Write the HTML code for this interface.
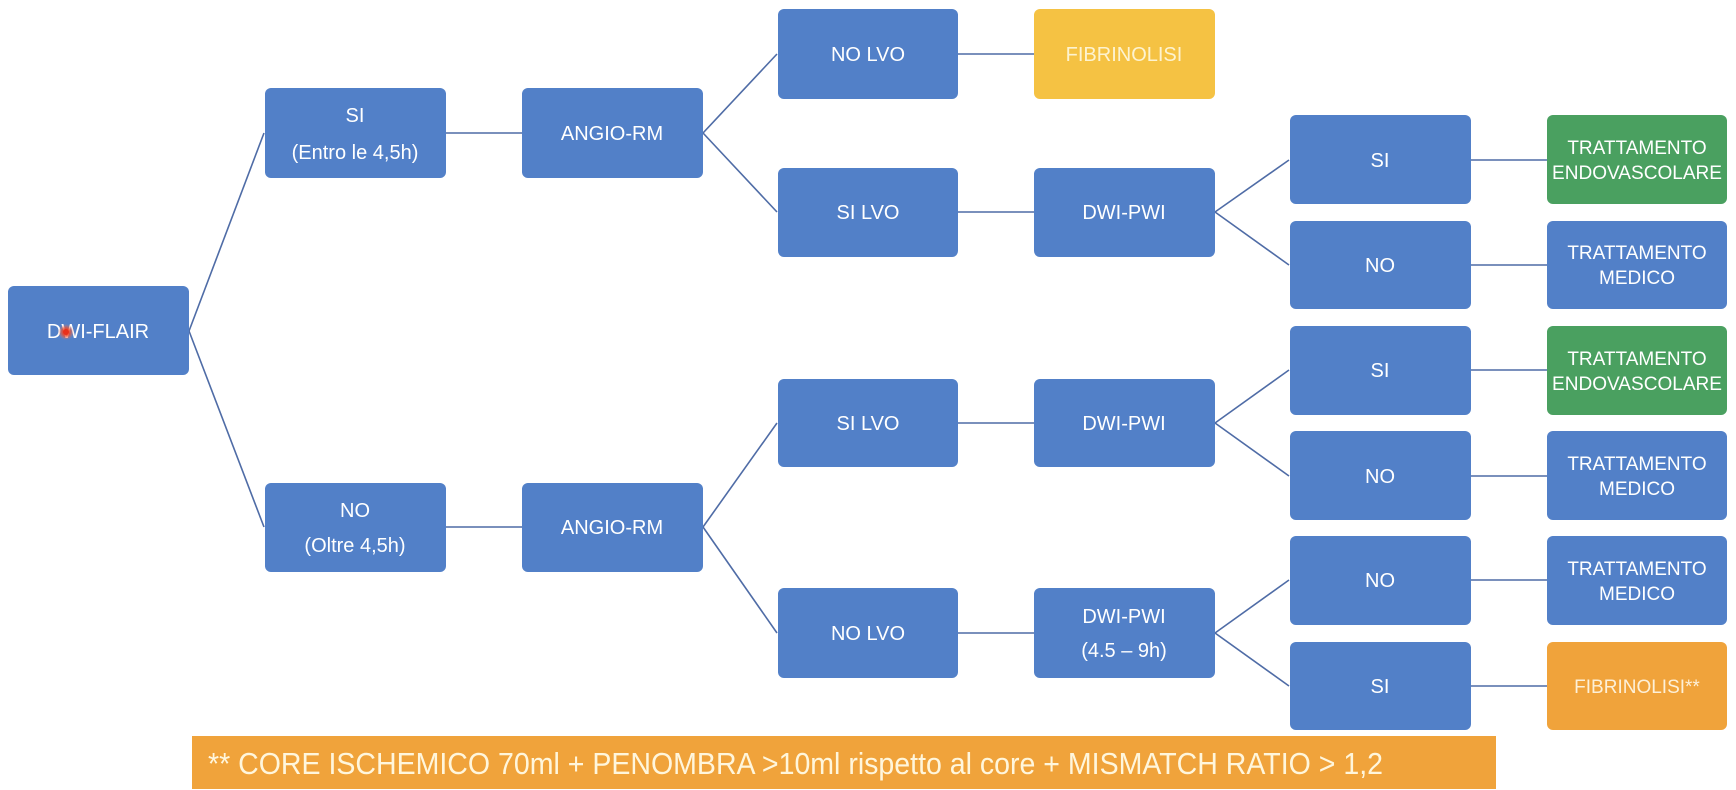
<!DOCTYPE html>
<html><head><meta charset="utf-8"><style>
html,body{margin:0;padding:0;background:#fff;}
svg{display:block;}
text{font-family:"Liberation Sans",Arial,sans-serif;fill:#fff;text-anchor:middle;font-size:20px;}
text.s{font-size:19px;}
text.b{font-size:31px;text-anchor:start;fill:#fff6dc;}
</style></head><body>
<svg width="1736" height="790" viewBox="0 0 1736 790" xmlns="http://www.w3.org/2000/svg">
<defs>
<radialGradient id="rg"><stop offset="0" stop-color="#ff3b1f"/><stop offset="0.5" stop-color="#f04a2a" stop-opacity="0.8"/><stop offset="1" stop-color="#f08060" stop-opacity="0"/></radialGradient>
</defs>
<g stroke="#4f6ca6" stroke-width="1.6" fill="none">
<line x1="189" y1="331" x2="264" y2="133"/>
<line x1="189" y1="331" x2="264" y2="527"/>
<line x1="446" y1="133" x2="522" y2="133"/>
<line x1="446" y1="527" x2="522" y2="527"/>
<line x1="703" y1="133" x2="777" y2="54"/>
<line x1="703" y1="133" x2="777" y2="212"/>
<line x1="703" y1="527" x2="777" y2="423"/>
<line x1="703" y1="527" x2="777" y2="633"/>
<line x1="958" y1="54" x2="1034" y2="54"/>
<line x1="958" y1="212" x2="1034" y2="212"/>
<line x1="958" y1="423" x2="1034" y2="423"/>
<line x1="958" y1="633" x2="1034" y2="633"/>
<line x1="1215" y1="212" x2="1289" y2="160"/>
<line x1="1215" y1="212" x2="1289" y2="265"/>
<line x1="1215" y1="423" x2="1289" y2="370"/>
<line x1="1215" y1="423" x2="1289" y2="476"/>
<line x1="1215" y1="633" x2="1289" y2="580"/>
<line x1="1215" y1="633" x2="1289" y2="686"/>
<line x1="1471" y1="160" x2="1547" y2="160"/>
<line x1="1471" y1="265" x2="1547" y2="265"/>
<line x1="1471" y1="370" x2="1547" y2="370"/>
<line x1="1471" y1="476" x2="1547" y2="476"/>
<line x1="1471" y1="580" x2="1547" y2="580"/>
<line x1="1471" y1="686" x2="1547" y2="686"/>
</g>
<g fill="#5280c8">
<rect x="8" y="286" width="181" height="89" rx="6"/>
<rect x="265" y="88" width="181" height="90" rx="6"/>
<rect x="265" y="483" width="181" height="89" rx="6"/>
<rect x="522" y="88" width="181" height="90" rx="6"/>
<rect x="522" y="483" width="181" height="89" rx="6"/>
<rect x="778" y="9" width="180" height="90" rx="6"/>
<rect x="778" y="168" width="180" height="89" rx="6"/>
<rect x="778" y="379" width="180" height="88" rx="6"/>
<rect x="778" y="588" width="180" height="90" rx="6"/>
<rect x="1034" y="168" width="181" height="89" rx="6"/>
<rect x="1034" y="379" width="181" height="88" rx="6"/>
<rect x="1034" y="588" width="181" height="90" rx="6"/>
<rect x="1290" y="115" width="181" height="89" rx="6"/>
<rect x="1290" y="221" width="181" height="88" rx="6"/>
<rect x="1290" y="326" width="181" height="89" rx="6"/>
<rect x="1290" y="431" width="181" height="89" rx="6"/>
<rect x="1290" y="536" width="181" height="89" rx="6"/>
<rect x="1290" y="642" width="181" height="88" rx="6"/>
<rect x="1547" y="221" width="180" height="88" rx="6"/>
<rect x="1547" y="431" width="180" height="89" rx="6"/>
<rect x="1547" y="536" width="180" height="89" rx="6"/>
</g>
<rect x="1034" y="9" width="181" height="90" rx="6" fill="#f5c243"/>
<rect x="1547" y="115" width="180" height="89" rx="6" fill="#4aa060"/>
<rect x="1547" y="326" width="180" height="89" rx="6" fill="#4aa060"/>
<rect x="1547" y="642" width="180" height="88" rx="6" fill="#f0a33b"/>
<rect x="192" y="736" width="1304" height="53" fill="#f0a33b"/>

<text x="98" y="338">DWI-FLAIR</text>
<circle cx="66" cy="332" r="8" fill="url(#rg)"/>
<circle cx="66" cy="332" r="3" fill="#e8301c"/>
<text x="355" y="122">SI</text>
<text x="355" y="159">(Entro le 4,5h)</text>
<text x="355" y="517">NO</text>
<text x="355" y="552">(Oltre 4,5h)</text>
<text x="612" y="140">ANGIO-RM</text>
<text x="612" y="534">ANGIO-RM</text>
<text x="868" y="61">NO LVO</text>
<text x="868" y="219">SI LVO</text>
<text x="868" y="430">SI LVO</text>
<text x="868" y="640">NO LVO</text>
<text x="1124" y="61" style="fill:#fdf3d0">FIBRINOLISI</text>
<text x="1124" y="219">DWI-PWI</text>
<text x="1124" y="430">DWI-PWI</text>
<text x="1124" y="623">DWI-PWI</text>
<text x="1124" y="657">(4.5 – 9h)</text>
<text x="1380" y="167">SI</text>
<text x="1380" y="272">NO</text>
<text x="1380" y="377">SI</text>
<text x="1380" y="483">NO</text>
<text x="1380" y="587">NO</text>
<text x="1380" y="693">SI</text>
<text class="s" x="1637" y="154">TRATTAMENTO</text>
<text class="s" x="1637" y="179" textLength="170" lengthAdjust="spacingAndGlyphs">ENDOVASCOLARE</text>
<text class="s" x="1637" y="259">TRATTAMENTO</text>
<text class="s" x="1637" y="284">MEDICO</text>
<text class="s" x="1637" y="365">TRATTAMENTO</text>
<text class="s" x="1637" y="390" textLength="170" lengthAdjust="spacingAndGlyphs">ENDOVASCOLARE</text>
<text class="s" x="1637" y="470">TRATTAMENTO</text>
<text class="s" x="1637" y="495">MEDICO</text>
<text class="s" x="1637" y="575">TRATTAMENTO</text>
<text class="s" x="1637" y="600">MEDICO</text>
<text class="s" x="1637" y="693" style="fill:#fdf0d8">FIBRINOLISI**</text>
<text class="b" x="208" y="774" textLength="1175" lengthAdjust="spacingAndGlyphs">** CORE ISCHEMICO 70ml + PENOMBRA &gt;10ml rispetto al core + MISMATCH RATIO &gt; 1,2</text>
</svg>
</body></html>
